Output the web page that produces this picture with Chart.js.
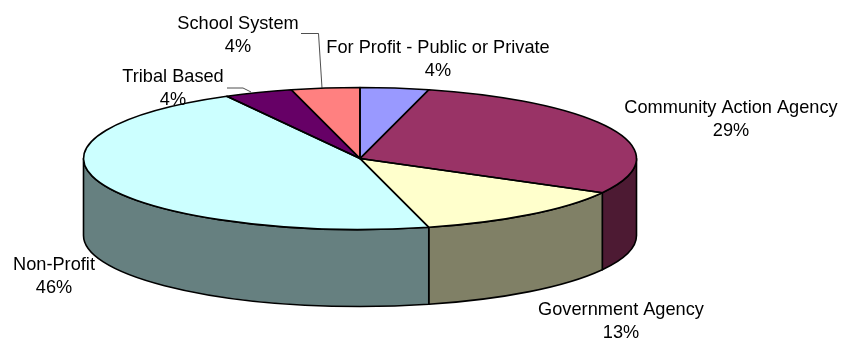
<!DOCTYPE html>
<html>
<head>
<meta charset="utf-8">
<style>
  html, body { margin: 0; padding: 0; background: #fff; }
  #wrap { position: relative; width: 843px; height: 339px; }
</style>
<script src="https://cdn.jsdelivr.net/npm/chart.js@4"></script>
</head>
<body>
<div id="wrap"><canvas id="pie" width="843" height="339"></canvas></div>
<script>
// Agency types and their share of the total, clockwise from 12 o'clock.
const categories = ['For Profit - Public or Private', 'Community Action Agency', 'Government Agency', 'Non-Profit', 'Tribal Based', 'School System'];
const shares = [4, 29, 13, 46, 4, 4];
const topColors = ['#9999FF', '#993366', '#FFFFCC', '#CCFFFF', '#660066', '#FF8080'];
const wallColors = ['#4D4D80', '#4D1A33', '#808066', '#668080', '#330033', '#804040'];

// Tilted-disc projection of the round pie.
const disc = { cx: 360, cy: 158.5, rx: 276.5, ry: 71, depth: 77 };
// Label centre x and first baseline y, in the order of categories.
const labelAt = [[438, 53], [731, 113], [621, 315], [54, 270], [173, 82], [238, 29]];
// Leader lines running from a label to its slice.
const leaders = [
  [[227, 88], [243, 88], [251, 92]],
  [[301, 33.5], [318.5, 33.5], [322, 88]]
];

const projection = {
  id: 'projection',
  beforeDatasetsDraw(chart) {
    const ctx = chart.ctx;
    const arcs = chart.getDatasetMeta(0).data;
    const R = arcs[0].outerRadius;

    // Outer wall: only the part of each slice on the front half of the disc shows.
    arcs.forEach((arc, i) => {
      for (const shift of [0, 2 * Math.PI, -2 * Math.PI]) {
        const s = Math.max(arc.startAngle + shift, 0);
        const e = Math.min(arc.endAngle + shift, Math.PI);
        if (e <= s) continue;
        ctx.beginPath();
        ctx.ellipse(disc.cx, disc.cy, disc.rx, disc.ry, 0, s, e);
        ctx.ellipse(disc.cx, disc.cy + disc.depth, disc.rx, disc.ry, 0, e, s, true);
        ctx.closePath();
        ctx.fillStyle = wallColors[i];
        ctx.fill();
        ctx.lineWidth = 1.6;
        ctx.strokeStyle = '#000';
        ctx.lineJoin = 'round';
        ctx.stroke();
      }
    });

    // Squash the library's round arcs into the disc's top face.
    ctx.save();
    ctx.translate(disc.cx, disc.cy);
    ctx.scale(disc.rx / R, disc.ry / R);
    ctx.translate(-arcs[0].x, -arcs[0].y);
  },
  afterDatasetsDraw(chart) {
    const ctx = chart.ctx;
    ctx.restore();

    // Slice outlines, stroked after the squash so the pen stays even.
    ctx.save();
    ctx.strokeStyle = '#000';
    ctx.lineWidth = 1.6;
    ctx.lineJoin = 'round';
    chart.getDatasetMeta(0).data.forEach(arc => {
      ctx.beginPath();
      ctx.moveTo(disc.cx, disc.cy);
      ctx.ellipse(disc.cx, disc.cy, disc.rx, disc.ry, 0, arc.startAngle, arc.endAngle);
      ctx.closePath();
      ctx.stroke();
    });

    // Leader lines
    ctx.strokeStyle = '#222';
    ctx.lineWidth = 0.8;
    leaders.forEach(pts => {
      ctx.beginPath();
      pts.forEach(([x, y], i) => i ? ctx.lineTo(x, y) : ctx.moveTo(x, y));
      ctx.stroke();
    });

    // Two-line labels: category, then percentage.
    ctx.fillStyle = '#000';
    ctx.font = '18.2px "Liberation Sans", Arial, sans-serif';
    ctx.textAlign = 'center';
    ctx.textBaseline = 'alphabetic';
    categories.forEach((name, i) => {
      const [x, y] = labelAt[i];
      ctx.fillText(name, x, y);
      ctx.fillText(shares[i] + '%', x, y + 22.5);
    });
    ctx.restore();
  }
};

new Chart(document.getElementById('pie'), {
  type: 'pie',
  data: {
    labels: categories,
    datasets: [{
      data: shares,
      backgroundColor: topColors,
      borderWidth: 0,
      clip: false
    }]
  },
  options: {
    responsive: false,
    animation: false,
    layout: { padding: 10 },
    plugins: { legend: { display: false }, tooltip: { enabled: false } }
  },
  plugins: [projection]
});
</script>
</body>
</html>
